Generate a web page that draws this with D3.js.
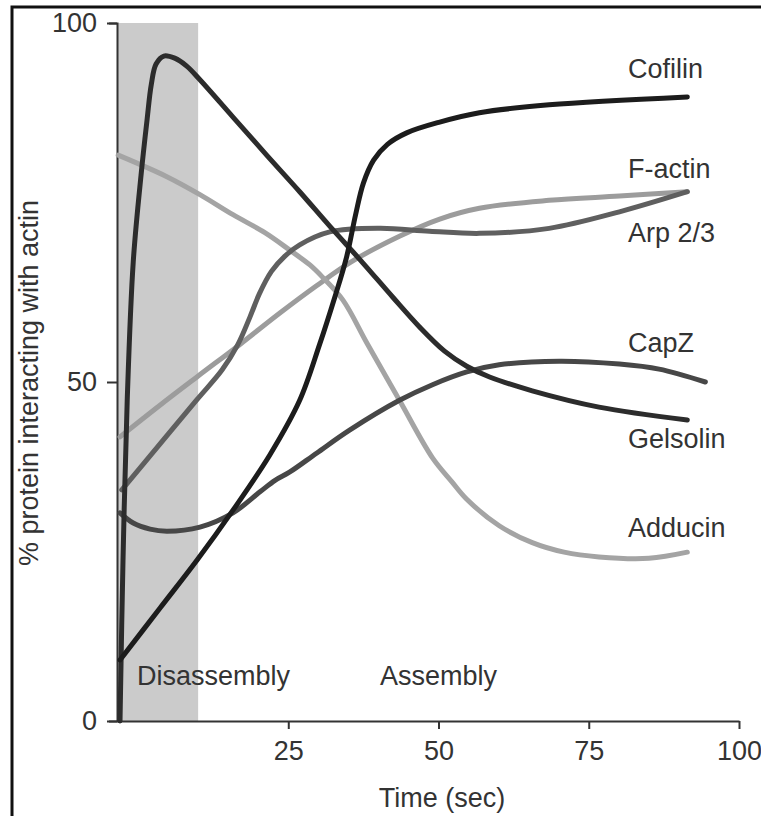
<!DOCTYPE html>
<html>
<head>
<meta charset="utf-8">
<script src="https://cdn.jsdelivr.net/npm/d3@7"></script>
<style>
  body { margin: 0; background: #fff; }
  svg { display: block; }
  text { font-family: "Liberation Sans", Arial, Helvetica, sans-serif; fill: #333; }
</style>
</head>
<body>
<svg id="chart"></svg>
<script>
// time (sec) and % protein interacting with actin
const cofilinT  = [-3, 3.7, 9.8, 15.8, 21.9, 26.9, 30.2, 32.7, 34.7, 36.2, 37.5, 39.2, 41.5, 44.7, 50.2, 56.8, 68.4, 91.4]
const cofilinV  = [9.0, 16.7, 23.7, 31.1, 39.2, 47.3, 55.2, 61.7, 67.4, 73.3, 77.7, 80.9, 83.1, 84.7, 86.2, 87.5, 88.6, 89.7]

const factinT   = [-3, 3.7, 9.8, 16.9, 23.6, 29.7, 35.2, 43.5, 50.2, 56.8, 68.4, 80.1, 91.4]
const factinV   = [41.9, 46.6, 50.7, 55.2, 59.6, 63.4, 66.6, 70.3, 72.7, 74.2, 75.3, 75.9, 76.5]

const arpT      = [-2.7, 3.7, 9.8, 14.0, 16.6, 18.6, 20.2, 22.2, 24.4, 26.9, 31.9, 40.2, 48.5, 56.8, 68.4, 80.1, 91.4]
const arpV      = [34.1, 40.9, 47.4, 51.7, 55.2, 59.0, 62.3, 65.4, 67.5, 69.1, 70.9, 71.4, 71.0, 70.7, 71.4, 73.7, 76.5]

const capzT     = [-3, -0.8, 2.0, 4.8, 10.3, 15.8, 20.3, 22.8, 25.2, 29.7, 35.2, 43.5, 49.0, 54.7, 60.1, 70.1, 80.1, 86.7, 94.4]
const capzV     = [30.7, 29.2, 28.3, 28.0, 28.6, 30.7, 33.8, 35.5, 36.7, 39.5, 42.9, 47.3, 49.6, 51.4, 52.4, 52.9, 52.5, 51.8, 50]

const gelsolinT = [-3, -2.5, -1.8, -0.8, 0.5, 1.5, 2.2, 3.0, 4.3, 6.1, 8.1, 10.3, 15.8, 21.4, 26.9, 31.9, 37.4, 42.4, 46.8, 51.0, 54.7, 58.5, 65.6, 76.7, 91.4]
const gelsolinV = [0, 23.7, 47.3, 66.7, 78.8, 86.5, 91.4, 94.3, 95.4, 95.1, 94.0, 92.1, 86.9, 81.6, 76.5, 71.7, 66.6, 61.8, 57.7, 54.3, 52.2, 50.7, 48.7, 46.3, 44.4]

const adducinT  = [-3.3, 4.8, 10.3, 15.8, 21.1, 25.2, 28.6, 30.7, 34.1, 38.1, 43.5, 49.0, 52.2, 54.7, 60.1, 65.6, 70.9, 76.7, 85.0, 91.4]
const adducinV  = [81.6, 78.6, 76.1, 73.3, 70.8, 68.4, 66.3, 64.6, 61.4, 55.4, 47.3, 38.8, 35.3, 32.7, 28.8, 26.3, 24.9, 24.2, 24.0, 24.9]

const seriesNames = ['Cofilin', 'F-actin', 'Arp 2/3', 'CapZ', 'Gelsolin', 'Adducin']
const xTicks = [25, 50, 75, 100]
const yTicks = [0, 50, 100]
const disassemblyEnd = 10

const W = 761, H = 816
const svg = d3.select('#chart').attr('width', W).attr('height', H)

// outer frame (only left/top edges fall inside the picture)
svg.append('rect')
  .attr('x', 12).attr('y', 7)
  .attr('width', 800).attr('height', 900)
  .attr('fill', 'none').attr('stroke', '#111').attr('stroke-width', 3)

const x = d3.scaleLinear().domain([-3.5, 100]).range([117, 739])
const y = d3.scaleLinear().domain([0, 50, 100]).range([721, 382, 23])

// shaded disassembly window
svg.append('rect')
  .attr('x', x(-3.5)).attr('y', y(100))
  .attr('width', x(disassemblyEnd) - x(-3.5))
  .attr('height', y(0) - y(100))
  .attr('fill', '#cbcbcb')

svg.append('text').attr('x', 137).attr('y', 685)
  .style('font-size', '27px').text('Disassembly')
svg.append('text').attr('x', 380).attr('y', 685)
  .style('font-size', '27px').text('Assembly')

// axes
const yAxis = svg.append('g')
  .attr('transform', `translate(${x(-3.5)},0)`)
  .call(d3.axisLeft(y).tickValues(yTicks).tickSize(10).tickSizeOuter(8).tickPadding(10))
const xAxis = svg.append('g')
  .attr('transform', `translate(0,${y(0)})`)
  .call(d3.axisBottom(x).tickValues(xTicks).tickSize(8).tickSizeOuter(0).tickPadding(12))

;[xAxis, yAxis].forEach(g => {
  g.selectAll('path,line').attr('stroke', '#333').attr('stroke-width', 2)
  g.selectAll('text').attr('fill', '#333').style('font-size', '27px')
    .style('font-family', '"Liberation Sans", Arial, sans-serif')
})

svg.append('text')
  .attr('x', 442).attr('y', 807)
  .attr('text-anchor', 'middle')
  .style('font-size', '27px').text('Time (sec)')

svg.append('text')
  .attr('transform', 'translate(38,383) rotate(-90)')
  .attr('text-anchor', 'middle')
  .style('font-size', '27px').text('% protein interacting with actin')

// curves
const series = [
  { name: seriesNames[0], t: cofilinT,  v: cofilinV,  color: '#1c1c1c', dy: -19 },
  { name: seriesNames[1], t: factinT,   v: factinV,   color: '#9c9c9c', dy: -14 },
  { name: seriesNames[2], t: arpT,      v: arpV,      color: '#5f5f5f', dy: 50 },
  { name: seriesNames[3], t: capzT,     v: capzV,     color: '#474747', dy: -30 },
  { name: seriesNames[4], t: gelsolinT, v: gelsolinV, color: '#2c2c2c', dy: 28 },
  { name: seriesNames[5], t: adducinT,  v: adducinV,  color: '#a4a4a4', dy: -15 }
]

const line = d3.line()
  .x(d => x(d[0]))
  .y(d => y(d[1]))
  .curve(d3.curveCatmullRom.alpha(0.5))

// lighter lines first, dark ones on top
const order = [1, 5, 2, 3, 4, 0]
order.forEach(i => {
  const s = series[i]
  svg.append('path')
    .datum(s.t.map((t, k) => [t, s.v[k]]))
    .attr('d', line)
    .attr('fill', 'none')
    .attr('stroke', s.color)
    .attr('stroke-width', 5)
    .attr('stroke-linecap', 'round')
    .attr('stroke-linejoin', 'round')
})

series.forEach(s => {
  const last = s.v[s.v.length - 1]
  svg.append('text')
    .attr('x', 628)
    .attr('y', y(last) + s.dy)
    .style('font-size', '27px')
    .text(s.name)
})
</script>
</body>
</html>
